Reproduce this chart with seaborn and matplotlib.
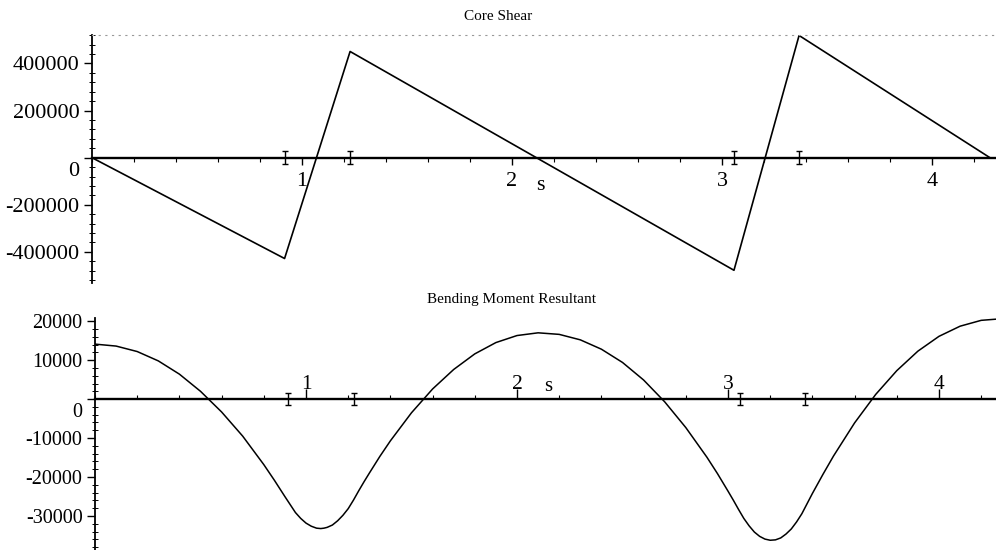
import matplotlib
matplotlib.use("Agg")
import matplotlib.pyplot as plt
import pandas as pd
import seaborn as sns
from matplotlib.ticker import MultipleLocator
from matplotlib.transforms import ScaledTranslation

# Core shear along s (piecewise linear between the marked stations)
shear_s = [0.0, 0.917, 1.229, 3.057, 3.367, 4.276]
shear_v = [0, -428000, 451000, -478000, 519000, 0]

# Bending moment resultant along s
moment_s = [0.0, 0.1, 0.2, 0.3, 0.4, 0.5, 0.6, 0.7, 0.8, 0.85, 0.9, 0.95, 0.975,
            1.0, 1.025, 1.05, 1.07, 1.085, 1.1, 1.125, 1.15, 1.175, 1.2, 1.225,
            1.25, 1.275, 1.3, 1.35, 1.4, 1.5, 1.6, 1.7, 1.8, 1.9, 2.0, 2.1, 2.2,
            2.3, 2.4, 2.5, 2.6, 2.7, 2.8, 2.9, 2.95, 3.0, 3.025, 3.05, 3.075,
            3.1, 3.125, 3.15, 3.175, 3.2, 3.225, 3.25, 3.275, 3.3, 3.325, 3.35,
            3.4, 3.45, 3.5, 3.6, 3.7, 3.8, 3.9, 4.0, 4.1, 4.2, 4.27]
moment_m = [14100, 13600, 12200, 9800, 6400, 2000, -3300, -9500, -16800,
            -20800, -25000, -29100, -30600, -31800, -32600, -33100, -33200,
            -33100, -32900, -32300, -31200, -29800, -28100, -25900, -23500,
            -21200, -19000, -14700, -10700, -3500, 2600, 7600, 11600, 14500,
            16300, 17000, 16600, 15200, 12800, 9400, 4900, -700, -7300, -14900,
            -19100, -23600, -25900, -28300, -30600, -32500, -34100, -35200,
            -35900, -36200, -36100, -35600, -34600, -33300, -31500, -29400,
            -24200, -19300, -14600, -6100, 1200, 7300, 12300, 16100, 18700,
            20200, 20500]

# Stations marked on the s axis
marker_s = [0.917, 1.229, 3.057, 3.367]

shear_yticks = [-400000, -200000, 0, 200000, 400000]
moment_yticks = [-30000, -20000, -10000, 0, 10000, 20000]
s_ticks = [1, 2, 3, 4]

sns.set_theme(style="ticks")
plt.rcParams["font.family"] = ["Liberation Serif", "DejaVu Serif"]
plt.rcParams.update({
    "text.color": "black", "axes.labelcolor": "black",
    "xtick.color": "black", "ytick.color": "black",
    "axes.edgecolor": "black",
})

W, H = 996, 550
fig = plt.figure(figsize=(W / 100, H / 100), dpi=100)


def add_axes_px(left, top, right, bottom):
    return fig.add_axes([left / W, 1 - bottom / H, (right - left) / W, (bottom - top) / H])


ax1 = add_axes_px(92, 35, 996, 283)
ax2 = add_axes_px(95, 318, 996, 550)

shear_df = pd.DataFrame({"s": shear_s, "V": shear_v})
moment_df = pd.DataFrame({"s": moment_s, "M": moment_m})

sns.lineplot(data=shear_df, x="s", y="V", ax=ax1, color="black", linewidth=1.2)
sns.lineplot(data=moment_df, x="s", y="M", ax=ax2, color="black", linewidth=1.1)

ax1.errorbar(marker_s, [0] * len(marker_s), yerr=28000, fmt="none", ecolor="black",
             elinewidth=1.0, capsize=2.5, capthick=1.0, zorder=3)
ax2.errorbar(marker_s, [0] * len(marker_s), yerr=1600, fmt="none", ecolor="black",
             elinewidth=1.0, capsize=2.5, capthick=1.0, zorder=3)

ax1.set_xlim(0, 904 / 210)
ax1.set_ylim(-532000, 521000)
ax2.set_xlim(0, 901 / 211)
ax2.set_ylim(-38700, 20800)

for ax in (ax1, ax2):
    ax.grid(False)
    ax.spines["bottom"].set_position(("data", 0))
    ax.spines["bottom"].set_linewidth(1.7)
    ax.spines["left"].set_linewidth(1.3)
    ax.spines["right"].set_visible(False)
    ax.xaxis.set_minor_locator(MultipleLocator(0.2))
    ax.set_xticks(s_ticks, labels=[str(v) for v in s_ticks])

ax1.spines["top"].set_linestyle((0, (1, 5)))
ax1.spines["top"].set_color("#999999")
ax1.spines["top"].set_linewidth(0.8)
ax2.spines["top"].set_visible(False)

ax1.set_yticks(shear_yticks, labels=[str(v) for v in shear_yticks])
ax2.set_yticks(moment_yticks, labels=[str(v) for v in moment_yticks])
ax1.yaxis.set_minor_locator(MultipleLocator(40000))
ax2.yaxis.set_minor_locator(MultipleLocator(2000))

ax1.tick_params(axis="x", which="major", direction="out", length=5, width=1, pad=5, labelsize=16)
ax1.tick_params(axis="x", which="minor", direction="out", length=3, width=0.8)
ax2.tick_params(axis="x", which="major", direction="in", length=7, width=1, pad=-17, labelsize=15.5)
ax2.tick_params(axis="x", which="minor", direction="in", length=3, width=0.8)
ax1.tick_params(axis="y", which="major", direction="out", length=6, width=1, pad=3, labelsize=16)
ax2.tick_params(axis="y", which="major", direction="out", length=6, width=1, pad=3, labelsize=14.5)
for ax in (ax1, ax2):
    ax.tick_params(axis="y", which="minor", direction="inout", length=4, width=0.7)
    # the zero label sits just below the s axis
    for lab in ax.get_yticklabels():
        if lab.get_text() == "0":
            lab.set_va("top")
            lab.set_transform(lab.get_transform()
                              + ScaledTranslation(0, -0.04, fig.dpi_scale_trans))

ax1.set_xlabel("s", fontsize=16)
ax1.xaxis.set_label_coords((540 - 92) / 904, 0.43)
ax2.set_xlabel("s", fontsize=15)
ax2.xaxis.set_label_coords((548 - 95) / 901, 0.745)
ax1.set_ylabel("")
ax2.set_ylabel("")

ax1.set_title("Core Shear", fontsize=11, x=(498 - 92) / 904, pad=11)
ax2.set_title("Bending Moment Resultant", fontsize=11, x=(511 - 95) / 901, pad=11)

fig.savefig("out.png", dpi=100)
